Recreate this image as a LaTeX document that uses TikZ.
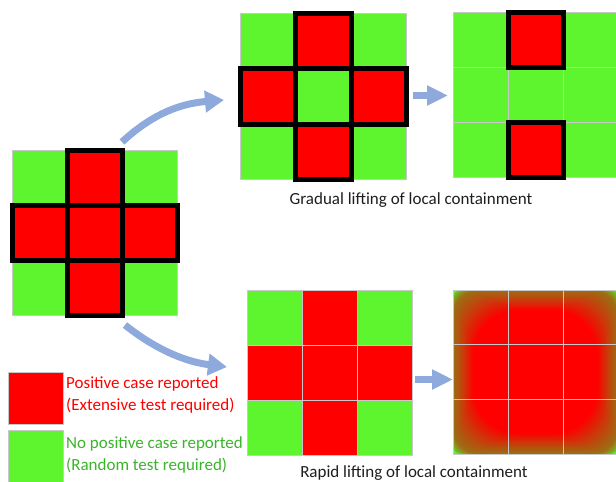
\documentclass[tikz,border=0pt]{standalone}
\usepackage{fontspec}
\setmainfont{Carlito}
\usetikzlibrary{arrows.meta}
\definecolor{grn}{RGB}{94,245,46}
\definecolor{cellline}{RGB}{200,200,200}
\definecolor{arrowblue}{RGB}{142,169,219}
\definecolor{legendgreen}{RGB}{58,180,42}
\definecolor{captiongray}{RGB}{30,30,30}
\tikzset{
  cellG/.style={fill=grn, draw=cellline, line width=0.8pt},
  cellR/.style={fill=red, draw=cellline, line width=0.8pt},
  bordR/.style={draw=black, line width=5pt},
  bordG/.style={},
  noneR/.style={},
  noneG/.style={},
  bigarrow/.style={draw=arrowblue, line width=7pt, -{Triangle[width=21pt,length=19pt]}},
  blockarrow/.style={draw=arrowblue, line width=7pt, -{Triangle[width=19pt,length=21pt]}},
  caption/.style={text=captiongray, font=\fontsize{17}{20}\selectfont, inner sep=0pt},
  legendtext/.style={font=\fontsize{17}{22}\selectfont, align=left, anchor=west, inner sep=0pt},
}
\newcommand\mygrid[5]{%
  \begin{scope}[shift={(#1,#2)}]
    \foreach \k [count=\n from 0] in {#4} {
      \pgfmathtruncatemacro\cc{mod(\n,3)}
      \pgfmathtruncatemacro\rr{div(\n,3)}
      \path[cell\k] ({\cc*#3},{\rr*#3}) rectangle ++(#3,#3);
    }
    \foreach \k [count=\n from 0] in {#4} {
      \pgfmathtruncatemacro\cc{mod(\n,3)}
      \pgfmathtruncatemacro\rr{div(\n,3)}
      \path[#5\k] ({\cc*#3},{\rr*#3}) rectangle ++(#3,#3);
    }
  \end{scope}}
\begin{document}
\begin{tikzpicture}[x=1pt,y=-1pt]
\useasboundingbox (0,0) rectangle (616,482);
\clip (0,0) rectangle (616,482);
% left grid
\mygrid{12}{150}{55}{G,R,G,R,R,R,G,R,G}{bord}
% top middle
\mygrid{240}{13}{55.5}{G,R,G,R,G,R,G,R,G}{bord}
% top right
\mygrid{453}{12}{55}{G,R,G,G,G,G,G,R,G}{bord}
% bottom middle
\mygrid{247}{290}{55}{G,R,G,R,R,R,G,R,G}{none}
% bottom right: blurred red
\begin{scope}[shift={(453,290)}]
  \fill[grn] (0,0) rectangle (165,164);
  \foreach \rad/\p in {8/12,11/20,14/28,17/36,20/43} {
    \fill[red!\p!grn!92!black, rounded corners=\rad pt] (0,0) rectangle (165,164);
  }
  \foreach \k in {0,...,20} {
    \pgfmathtruncatemacro\p{50+50*\k/20}
    \pgfmathtruncatemacro\dk{100-10*(1-\k/20)}
    \pgfmathsetmacro\rad{24+1.1*\k}
    \fill[red!\p!grn!\dk!black, rounded corners=\rad pt] ({\k},{\k}) rectangle ({165-\k},{164-\k});
  }
  \foreach \i in {0,1,2} {
    \foreach \j in {0,1,2} {
      \draw[cellline, line width=0.8pt] ({\i*55},{\j*54.7}) rectangle ++(55,54.7);
    }
  }
\end{scope}
% curved arrows
\coordinate (c1s) at (122,142);
\coordinate (c1e) at (224,100);
\coordinate (c2s) at (125,325);
\coordinate (c2e) at (227,367);
\draw[bigarrow] (c1s) .. controls (148,118) and (175,104) .. (c1e);
\draw[bigarrow] (c2s) .. controls (150,345) and (180,361) .. (c2e);
% block arrows
\coordinate (b1s) at (413,95.5);
\coordinate (b1e) at (448,95.5);
\coordinate (b2s) at (415,379.5);
\coordinate (b2e) at (453,379.5);
\draw[blockarrow] (b1s) -- (b1e);
\draw[blockarrow] (b2s) -- (b2e);
% captions
\node[caption] (cap1) at (411,200) {Gradual lifting of local containment};
\node[caption] (cap2) at (414,473) {Rapid lifting of local containment};
% legend
\path[fill=red, draw=cellline, line width=0.8pt] (8,372) rectangle (63,424);
\path[fill=grn, draw=cellline, line width=0.8pt] (8,430) rectangle (63,486);
\node[legendtext, text=red] (lg1) at (66,395) {Positive case reported\\(Extensive test required)};
\node[legendtext, text=legendgreen] (lg2) at (66,454.5) {No positive case reported\\(Random test required)};
\end{tikzpicture}
\end{document}
